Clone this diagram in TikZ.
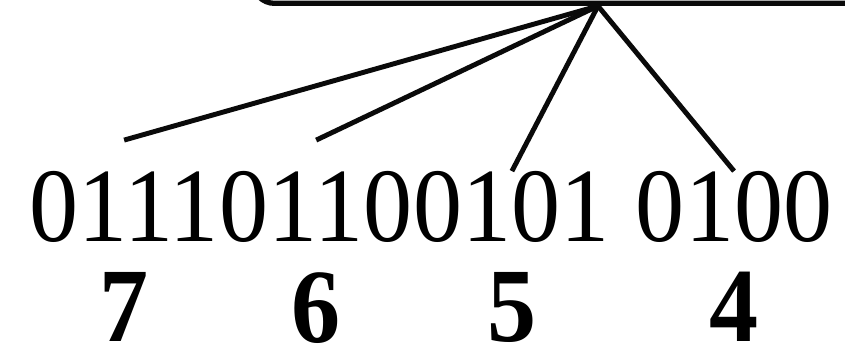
\documentclass[tikz,border=0pt]{standalone}
\usepackage{fontspec}
\setmainfont{Liberation Serif}
\usetikzlibrary{positioning}
\definecolor{mydark}{RGB}{10,10,10}
\tikzset{
  regbox/.style={rectangle, draw=mydark, rounded corners=0.22cm, line width=1.5pt,
    minimum width=6.5cm, minimum height=1cm, inner sep=0pt},
  bits/.style={inner sep=0pt, font=\fontsize{30}{32}\selectfont, xscale=0.93, transform shape},
  digit/.style={inner sep=0pt, font=\fontsize{30}{32}\selectfont\bfseries, xscale=0.93, transform shape},
  line/.style={line width=1.4pt, color=mydark}
}

\begin{document}
\begin{tikzpicture}[x=0.01cm, y=-0.01cm, node distance=8pt]
  \useasboundingbox (0,0) rectangle (845,356);
  \node[regbox, anchor=south west] (reg) at (250,6) {};
  \coordinate (hub) at (598,6);

  \node[bits, anchor=base west] (g7) at (29,242) {0111};
  \node[bits, right=0pt of g7] (g6) {0110};
  \node[bits, right=0pt of g6] (g5) {0101};
  \node[bits, right=7pt of g5] (g4) {0100};

  \node[digit, below=of g7] (d7) {7};
  \node[digit, below=of g6] (d6) {6};
  \node[digit, below=of g5] (d5) {5};
  \node[digit, below=of g4] (d4) {4};

  \coordinate (t7) at ([yshift=0.31cm]g7.north);
  \coordinate (t6) at ([yshift=0.31cm]g6.north);

  \draw[line] (hub) -- (t7);
  \draw[line] (hub) -- (t6);
  \draw[line] (hub) -- (g5.north);
  \draw[line] (hub) -- (g4.north);
\end{tikzpicture}
\end{document}
